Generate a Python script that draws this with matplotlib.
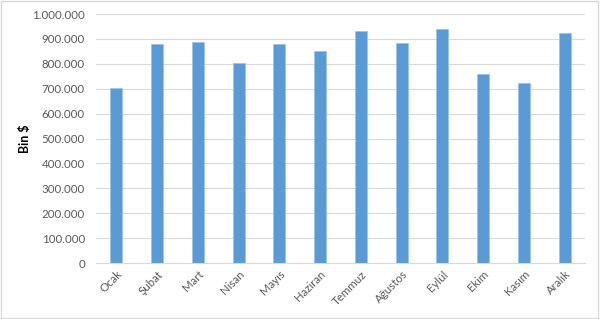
import matplotlib.pyplot as plt
from matplotlib.patches import Rectangle
from matplotlib.ticker import FuncFormatter

months = ["Ocak", "Şubat", "Mart", "Nisan", "Mayıs", "Haziran",
          "Temmuz", "Ağustos", "Eylül", "Ekim", "Kasım", "Aralık"]
values = [703000, 878000, 886000, 802000, 879000, 851000,
          932000, 882000, 940000, 759000, 723000, 925000]

plt.rcParams['font.family'] = ['Lato', 'DejaVu Sans']

fig = plt.figure(figsize=(6, 3.19), dpi=100)
ax = fig.add_axes([0.16, 0.1755, 0.815, 0.7805])

x = list(range(len(months)))
ax.bar(x, values, width=0.3, color='#5B9BD5', edgecolor='#9DC3E6', linewidth=0.6, zorder=3)

ax.set_xlim(-0.5, len(months) - 0.5)
ax.set_ylim(0, 1000000)
ax.set_yticks(range(0, 1000001, 100000))
ax.yaxis.set_major_formatter(FuncFormatter(lambda v, p: "{:,.0f}".format(v).replace(",", ".")))
ax.grid(axis='y', color='#D9D9D9', linewidth=0.8, zorder=0)

ax.set_xticks(x)
ax.set_xticklabels(months, rotation=45, ha='right', rotation_mode='anchor')
ax.tick_params(axis='both', length=0, colors='#595959', labelsize=8.3)
ax.tick_params(axis='y', pad=8)
ax.tick_params(axis='x', pad=4)

for s in ['top', 'right', 'left']:
    ax.spines[s].set_visible(False)
ax.spines['bottom'].set_color('#D9D9D9')
ax.spines['bottom'].set_zorder(4)

ax.set_ylabel("Bin $", fontsize=9, fontweight='bold', color='black')
ax.yaxis.set_label_coords(-0.133, 0.5)

fig.patches.append(Rectangle((0.002, 0.004), 0.994, 0.992, transform=fig.transFigure,
                             fill=False, edgecolor='#D9D9D9', linewidth=1))

fig.savefig("out.png", dpi=100)
